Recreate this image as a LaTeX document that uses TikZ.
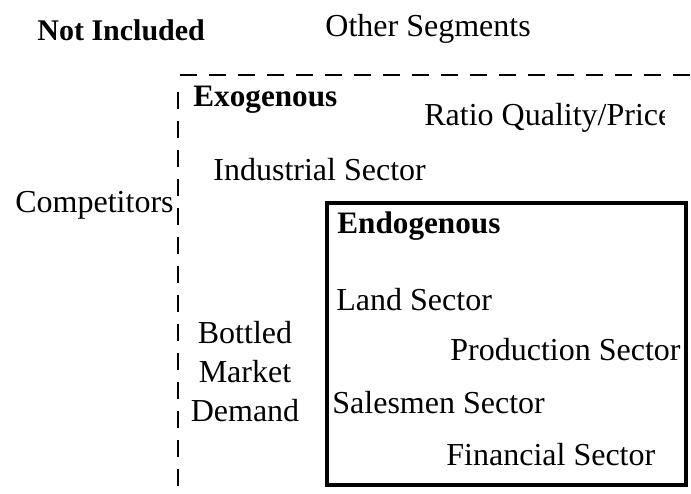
\documentclass[tikz,border=0pt]{standalone}
\usepackage{fontspec}
\setmainfont{Liberation Serif}
\begin{document}
\begin{tikzpicture}[x=0.5pt, y=-0.5pt, every node/.style={font=\fontsize{16}{19.5}\selectfont, inner sep=0pt}]
        \useasboundingbox (0, 0) rectangle (691, 493);
        \node[anchor=west, font=\fontsize{15}{19}\selectfont\bfseries] (notincluded) at (37, 30) {Not Included};
        \node[anchor=west] (othersegments) at (325, 29) {Other Segments};
        \draw[line width=1pt, dash pattern=on 8.5pt off 6pt] (180, 75) -- (691, 75);
        \draw[line width=1pt, dash pattern=on 8.5pt off 6pt] (178, 92) -- (178, 493);
        \node[anchor=west, font=\fontsize{15.6}{19}\selectfont\bfseries] (exogenous) at (193, 100) {Exogenous};
        \begin{scope}
            \clip (0, 0) rectangle (664, 493);
            \node[anchor=west] (ratio) at (424, 118) {Ratio Quality/Price};
        \end{scope}
        \node[anchor=west] (industrial) at (213, 170) {Industrial Sector};
        \node[anchor=west] (competitors) at (15, 205) {Competitors};
        \node[align=center] (bottled) at (245, 372) {Bottled\\Market\\Demand};
        \draw[line width=2pt] (327, 203) rectangle (686, 485);
        \node[anchor=west, font=\fontsize{15.6}{19}\selectfont\bfseries] (endogenous) at (337, 226) {Endogenous};
        \node[anchor=west] (land) at (336, 300) {Land Sector};
        \node[anchor=west] (production) at (450, 350) {Production Sector};
        \node[anchor=west] (salesmen) at (332, 403) {Salesmen Sector};
        \node[anchor=west] (financial) at (446, 455) {Financial Sector};
    \end{tikzpicture}
\end{document}
